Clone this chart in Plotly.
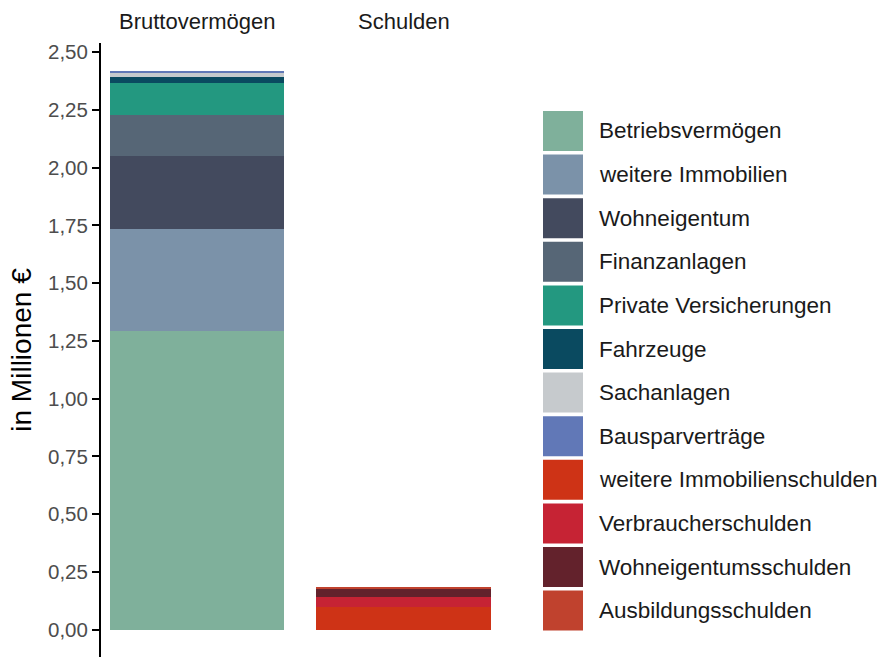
import plotly.graph_objects as go

# ---- data (in Millionen €) ----
brutto_labels = ["Betriebsvermögen", "weitere Immobilien", "Wohneigentum", "Finanzanlagen",
                 "Private Versicherungen", "Fahrzeuge", "Sachanlagen", "Bausparverträge"]
brutto_values = [1.293, 0.441, 0.316, 0.177, 0.139, 0.026, 0.017, 0.009]
brutto_colors = ["#7FB09B", "#7B92A9", "#434A5E", "#566676",
                 "#239880", "#0A4A60", "#C6CACD", "#6178B7"]

schulden_labels = ["weitere Immobilienschulden", "Verbraucherschulden",
                   "Wohneigentumsschulden", "Ausbildungsschulden"]
schulden_values = [0.100, 0.043, 0.035, 0.004]
schulden_colors = ["#CE3316", "#C62334", "#63222C", "#C0422E"]

panel_titles = ["Bruttovermögen", "Schulden"]
tick_vals = [0, 0.25, 0.5, 0.75, 1.0, 1.25, 1.5, 1.75, 2.0, 2.25, 2.5]
tick_labels = ["0,00", "0,25", "0,50", "0,75", "1,00", "1,25", "1,50", "1,75", "2,00", "2,25", "2,50"]
y_title = "in Millionen €"

FONT = "Liberation Sans, Arial, Helvetica, sans-serif"
W, H = 879, 657
ML, MR, MT, MB = 101, 379, 43, 0

fig = go.Figure()
for lab, val, col in zip(brutto_labels, brutto_values, brutto_colors):
    fig.add_trace(go.Bar(x=[0], y=[val], name=lab, marker=dict(color=col, line=dict(width=0)),
                         width=1, xaxis="x", yaxis="y", showlegend=False))
for lab, val, col in zip(schulden_labels, schulden_values, schulden_colors):
    fig.add_trace(go.Bar(x=[0], y=[val], name=lab, marker=dict(color=col, line=dict(width=0)),
                         width=1, xaxis="x2", yaxis="y2", showlegend=False))

pw = W - ML - MR
ph = H - MT - MB
def px2x(p):
    return (p - ML) / pw
def py2y(p):
    return (H - MB - p) / ph

# custom legend (large square keys)
all_labels = brutto_labels + schulden_labels
all_colors = brutto_colors + schulden_colors
shapes = []
annotations = []
for i, (lab, col) in enumerate(zip(all_labels, all_colors)):
    top = 111 + 43.6 * i
    bot = top + 40
    shapes.append(dict(type="rect", xref="paper", yref="paper",
                       x0=px2x(543), x1=px2x(583), y0=py2y(bot), y1=py2y(top),
                       fillcolor=col, line=dict(width=0)))
    annotations.append(dict(text=lab, xref="paper", yref="paper", x=px2x(597), y=py2y((top + bot) / 2),
                            xanchor="left", yanchor="middle", showarrow=False,
                            font=dict(family=FONT, size=22.5, color="#1a1a1a")))

# panel strip titles
annotations.append(dict(text=panel_titles[0], xref="paper", yref="paper", x=px2x(197), y=py2y(22),
                        xanchor="center", yanchor="middle", showarrow=False,
                        font=dict(family=FONT, size=22, color="#1a1a1a")))
annotations.append(dict(text=panel_titles[1], xref="paper", yref="paper", x=px2x(403.5), y=py2y(22),
                        xanchor="center", yanchor="middle", showarrow=False,
                        font=dict(family=FONT, size=22, color="#1a1a1a")))

yr = [-0.118, 2.539]
xr = [-0.55, 0.55]
fig.update_layout(
    width=W, height=H,
    margin=dict(l=ML, r=MR, t=MT, b=MB, pad=0),
    barmode="stack",
    plot_bgcolor="white", paper_bgcolor="white",
    showlegend=False,
    shapes=shapes, annotations=annotations,
    xaxis=dict(domain=[0, px2x(293)], range=xr, showticklabels=False, ticks="",
               showgrid=False, zeroline=False, showline=True, linecolor="#EEEEEE", linewidth=1),
    xaxis2=dict(domain=[px2x(307), 1], range=xr, showticklabels=False, ticks="",
                showgrid=False, zeroline=False, showline=True, linecolor="#EEEEEE", linewidth=1,
                anchor="y2"),
    yaxis=dict(range=yr, tickvals=tick_vals, ticktext=tick_labels, ticks="outside", ticklen=7,
               tickwidth=2, tickcolor="black", showline=True, linecolor="black", linewidth=2,
               showgrid=False, zeroline=False,
               tickfont=dict(family=FONT, size=20.5, color="#4D4D4D"),
               title=dict(text=y_title, font=dict(family=FONT, size=28, color="black"), standoff=8)),
    yaxis2=dict(range=yr, matches="y", anchor="x2", showticklabels=False, ticks="",
                showline=False, showgrid=False, zeroline=False),
)

fig.write_html("out.html", config={"displayModeBar": False},
               post_script="document.body.style.margin='0';document.body.style.padding='0';")
